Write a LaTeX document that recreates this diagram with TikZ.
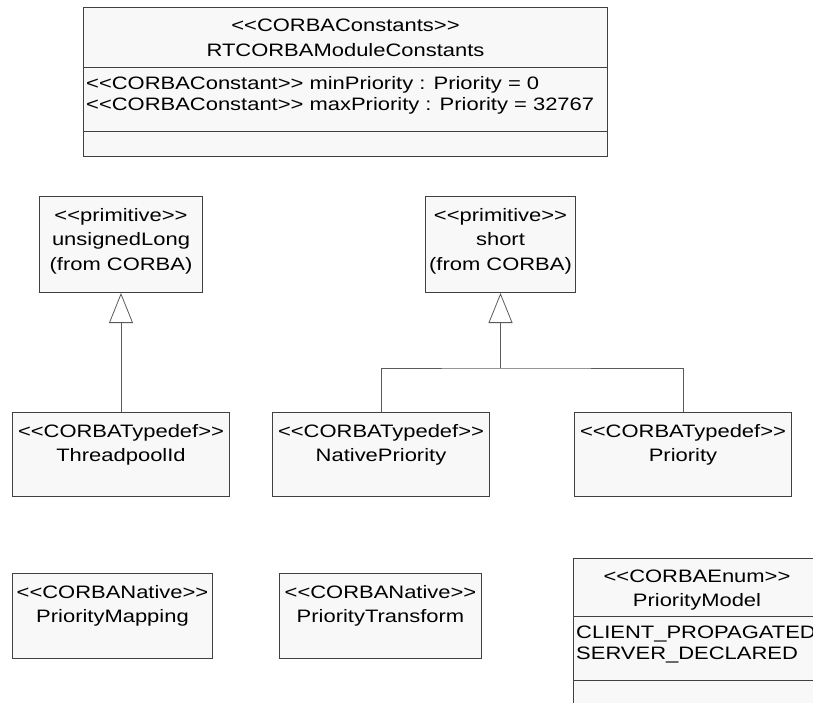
\documentclass[tikz,border=0pt]{standalone}
\usepackage{fontspec}
\setmainfont{Liberation Sans}[FakeStretch=1.22, Ligatures=TeXOff]
\usepackage{tikz}
\usetikzlibrary{arrows.meta,positioning}
\definecolor{uml_fill}{RGB}{248,248,248}
\definecolor{uml_line}{RGB}{64,64,64}
\definecolor{uml_link}{RGB}{90,90,90}

\begin{document}
\begin{tikzpicture}[x=1pt, y=-1pt,
    umlbox/.style={draw=uml_line, fill=uml_fill, line width=1pt,
      inner sep=0pt, anchor=north west},
    umltitle/.style={anchor=north, yshift=-12pt, inner sep=0pt, align=center,
      font=\fontsize{18}{24.5}\selectfont,
      execute at begin node={\rule{0pt}{14pt}}},
    umlattr/.style={anchor=north west, inner sep=0pt, align=left,
      font=\fontsize{18}{21}\selectfont,
      execute at begin node={\rule{0pt}{14pt}}},
    gen/.style={draw=uml_link, line width=0.8pt,
      -{Triangle[open, length=30pt, width=24pt]}},
    link/.style={draw=uml_link, line width=0.8pt}]
  \useasboundingbox (0,0) rectangle (813,702);
  \clip (0,0) rectangle (813,702);
  % Module constants
  \node[umlbox, minimum width=524pt, minimum height=149pt,
    label={[umltitle]north:{<<CORBAConstants>>\\RTCORBAModuleConstants}}]
    (consts) at (83,7) {};
  \draw[uml_line, line width=0.8pt]
    ([yshift=-60pt]consts.north west) -- ([yshift=-60pt]consts.north east);
  \draw[uml_line, line width=0.8pt]
    ([yshift=-124pt]consts.north west) -- ([yshift=-124pt]consts.north east);
  \node[umlattr] (constsAttr) at ([xshift=3pt, yshift=-69pt]consts.north west)
    {<<CORBAConstant>> minPriority : Priority = 0\\
     <<CORBAConstant>> maxPriority : Priority = 32767};
  % Primitive types
  \node[umlbox, minimum width=163pt, minimum height=96pt,
    label={[umltitle]north:{<<primitive>>\\unsignedLong\\(from CORBA)}}]
    (ulong) at (39,196) {};
  \node[umlbox, minimum width=150pt, minimum height=96pt,
    label={[umltitle]north:{<<primitive>>\\short\\(from CORBA)}}]
    (short) at (425,196) {};
  % Typedefs
  \node[umlbox, minimum width=217pt, minimum height=84pt,
    label={[umltitle]north:{<<CORBATypedef>>\\ThreadpoolId}}]
    (tpool) at (12,412) {};
  \node[umlbox, minimum width=217pt, minimum height=84pt,
    label={[umltitle]north:{<<CORBATypedef>>\\NativePriority}}]
    (npri) at (272,412) {};
  \node[umlbox, minimum width=217pt, minimum height=84pt,
    label={[umltitle]north:{<<CORBATypedef>>\\Priority}}]
    (pri) at (574,412) {};
  % Natives
  \node[umlbox, minimum width=200pt, minimum height=85pt,
    label={[umltitle]north:{<<CORBANative>>\\PriorityMapping}}]
    (pmap) at (12,573) {};
  \node[umlbox, minimum width=202pt, minimum height=85pt,
    label={[umltitle]north:{<<CORBANative>>\\PriorityTransform}}]
    (ptrans) at (279,573) {};
  % Enum
  \node[umlbox, minimum width=247pt, minimum height=170pt,
    label={[umltitle]north:{<<CORBAEnum>>\\PriorityModel}}]
    (pmodel) at (573,557.5) {};
  \draw[uml_line, line width=0.8pt]
    ([yshift=-59pt]pmodel.north west) -- ([yshift=-59pt]pmodel.north east);
  \draw[uml_line, line width=0.8pt]
    ([yshift=-123pt]pmodel.north west) -- ([yshift=-123pt]pmodel.north east);
  \node[umlattr] (pmodelAttr) at ([xshift=3pt, yshift=-68pt]pmodel.north west)
    {CLIENT\_PROPAGATED\\SERVER\_DECLARED};
  % Generalisations
  \draw[gen] (tpool.north) -- (ulong.south);
  \coordinate (fork) at (short.south |- 0,368);
  \draw[link] (npri.north) |- (fork) -| (pri.north);
  \draw[gen] (fork) -- (short.south);
\end{tikzpicture}
\end{document}
